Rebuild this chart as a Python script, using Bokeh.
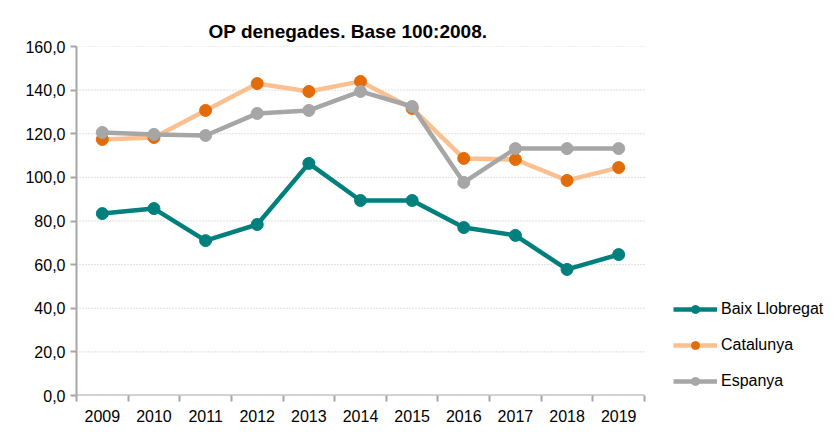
from bokeh.plotting import figure
from bokeh.models import Range1d, FixedTicker, Legend, LegendItem
from bokeh.embed import file_html
from bokeh.resources import INLINE

years = ["2009", "2010", "2011", "2012", "2013", "2014", "2015", "2016", "2017", "2018", "2019"]
baix = [83.4, 85.7, 71.0, 78.4, 106.4, 89.4, 89.4, 77.0, 73.4, 57.8, 64.6]
catalunya = [117.4, 118.3, 130.7, 143.0, 139.4, 144.0, 131.6, 108.7, 108.2, 98.6, 104.5]
espanya = [120.6, 119.7, 119.2, 129.3, 130.7, 139.4, 132.5, 97.7, 113.2, 113.2, 113.2]
y_ticks = [0, 20, 40, 60, 80, 100, 120, 140, 160]
y_labels = ["0,0", "20,0", "40,0", "60,0", "80,0", "100,0", "120,0", "140,0", "160,0"]
title = "OP denegades. Base 100:2008."

FONT = "Liberation Sans"
W, H = 832, 428
LEFT, TOP, BOTTOM, RIGHT = 76, 46, 33, 0
PLOT_W = 568  # visible plot area width in px (axis/grid extent)

n = len(years)
xs = [i + 0.5 for i in range(n)]
frame_w = W - LEFT - RIGHT
x_max = n * frame_w / PLOT_W

p = figure(width=W, height=H, output_backend="svg", toolbar_location=None,
           x_range=Range1d(0, x_max), y_range=Range1d(0, 160),
           min_border_left=LEFT, min_border_right=RIGHT, min_border_top=TOP, min_border_bottom=BOTTOM)
p.title.text = title
p.title.align = "left"
p.title.offset = 132
p.title.text_font = FONT
p.title.text_font_size = "19px"
p.title.text_font_style = "bold"
p.title.text_color = "black"
p.outline_line_color = None
p.background_fill_color = "white"
p.border_fill_color = "white"

# grid lines (only over the plot area)
p.xgrid.grid_line_color = None
p.ygrid.grid_line_color = None
p.segment(x0=[0] * (len(y_ticks) - 1), x1=[n] * (len(y_ticks) - 1), y0=y_ticks[1:], y1=y_ticks[1:],
          line_color="#BFBFBF", line_dash="1 2", line_width=1)

# x axis: labels at centers, ticks at boundaries (minor ticks)
p.xaxis.ticker = FixedTicker(ticks=xs, minor_ticks=list(range(n + 1)))
p.xaxis.major_label_overrides = {x: y for x, y in zip(xs, years)}
p.xaxis.major_tick_out = 0
p.xaxis.major_tick_in = 0
p.xaxis.minor_tick_out = 6
p.xaxis.minor_tick_in = 0
p.xaxis.minor_tick_line_color = "#A6A6A6"
p.xaxis.minor_tick_line_width = 2
p.xaxis.axis_line_color = None
p.xaxis.major_label_text_font = FONT
p.xaxis.major_label_text_font_size = "16px"
p.xaxis.major_label_text_color = "black"
p.xaxis.major_label_standoff = 8
p.segment(x0=[0], x1=[n], y0=[0], y1=[0], line_color="#A6A6A6", line_width=2)

p.yaxis.ticker = FixedTicker(ticks=y_ticks)
p.yaxis.major_label_overrides = {t: l for t, l in zip(y_ticks, y_labels)}
p.yaxis.minor_tick_line_color = None
p.yaxis.major_tick_out = 6
p.yaxis.major_tick_in = 0
p.yaxis.major_tick_line_color = "#A6A6A6"
p.yaxis.major_tick_line_width = 2
p.yaxis.axis_line_color = "#A6A6A6"
p.yaxis.axis_line_width = 2
p.yaxis.major_label_text_font = FONT
p.yaxis.major_label_text_font_size = "16px"
p.yaxis.major_label_text_color = "black"
p.yaxis.major_label_standoff = 5

series = [
    ("Baix Llobregat", baix, "#00807D", "#00807D"),
    ("Catalunya", catalunya, "#FAC090", "#E36C0A"),
    ("Espanya", espanya, "#A6A6A6", "#A6A6A6"),
]
items = []
for name, vals, lc, mc in series:
    l = p.line(xs, vals, line_color=lc, line_width=4.5)
    c = p.scatter(xs, vals, size=12, fill_color=mc, line_color=mc)
    items.append(LegendItem(label=name, renderers=[l, c]))

legend = Legend(items=items, location=(597, 4), orientation="vertical",
                label_text_font=FONT, label_text_font_size="16px", label_text_color="black",
                glyph_width=44, glyph_height=20, spacing=16, padding=0, margin=0,
                label_standoff=4, border_line_color=None, background_fill_alpha=0)
p.add_layout(legend)

open("out.html", "w").write(file_html(p, INLINE))
